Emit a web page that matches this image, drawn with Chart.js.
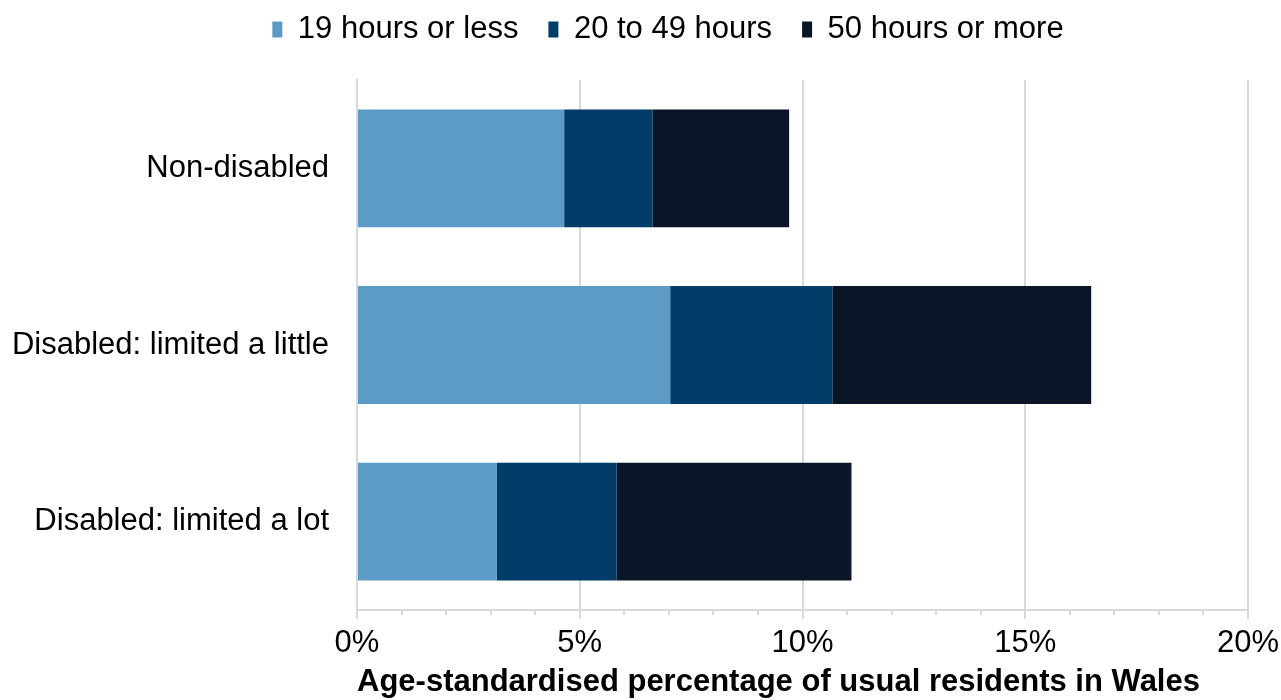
<!DOCTYPE html>
<html>
<head>
<meta charset="utf-8">
<script src="https://cdn.jsdelivr.net/npm/chart.js@4.4.1/dist/chart.umd.min.js"></script>
<style>
  html, body { margin: 0; padding: 0; background: #fff; }
  #wrap { width: 1281px; height: 700px; }
</style>
</head>
<body>
<div id="wrap"><canvas id="careChart" width="1281" height="700"></canvas></div>
<script>
// Unpaid care per week, by disability status
const groups = ['Non-disabled', 'Disabled: limited a little', 'Disabled: limited a lot'];
const upTo19 = [4.65, 7.03, 3.14];
const from20to49 = [1.98, 3.64, 2.69];
const over50 = [3.07, 5.81, 5.27];
const seriesNames = ['19 hours or less', '20 to 49 hours', '50 hours or more'];
const seriesColors = ['#5b9bc6', '#023c69', '#0a1628'];

const FONT = 'Liberation Sans, Arial, sans-serif';
const GRID = '#d9d9d9';

// minor tick marks every 1% along the x axis
const minorTicks = {
  id: 'minorTicks',
  afterDraw(chart) {
    const x = chart.scales.x;
    const ctx = chart.ctx;
    const y0 = chart.chartArea.bottom;
    ctx.save();
    ctx.strokeStyle = GRID;
    ctx.lineWidth = 2;
    for (let v = x.min; v <= x.max; v++) {
      if (v % 5 === 0) continue;
      const px = Math.round(x.getPixelForValue(v));
      ctx.beginPath();
      ctx.moveTo(px, y0);
      ctx.lineTo(px, y0 + 5);
      ctx.stroke();
    }
    ctx.restore();
  }
};

// fixed legend band height, legend row nudged up and right
const legendBand = {
  id: 'legendBand',
  beforeInit(chart) {
    const fit = chart.legend.fit;
    chart.legend.fit = function () {
      fit.call(this);
      this.height = 80;
    };
  },
  afterLayout(chart) {
    const lg = chart.legend;
    lg.top = -16;
    lg.left += 44;
    lg.right += 44;
  }
};

new Chart(document.getElementById('careChart'), {
  type: 'bar',
  data: {
    labels: groups,
    datasets: [upTo19, from20to49, over50].map((d, i) => ({
      label: seriesNames[i],
      data: d,
      backgroundColor: seriesColors[i],
      borderWidth: 0,
      barPercentage: 0.667,
      categoryPercentage: 1
    }))
  },
  options: {
    indexAxis: 'y',
    responsive: false,
    animation: false,
    layout: { padding: { left: 0, right: 33, top: 0, bottom: 0 } },
    plugins: {
      tooltip: { enabled: false },
      legend: {
        position: 'top',
        labels: {
          font: { family: FONT, size: 31 },
          color: '#000',
          boxWidth: 10,
          boxHeight: 16,
          padding: 30
        }
      }
    },
    scales: {
      x: {
        stacked: true,
        min: 0,
        max: 20,
        afterFit(s) {
          s.height = 90;
          s.paddingLeft = 0;
          s.paddingRight = 0;
        },
        ticks: {
          stepSize: 5,
          font: { family: FONT, size: 31 },
          color: '#000',
          padding: 6,
          maxRotation: 0,
          callback: v => v + '%'
        },
        grid: { color: GRID, lineWidth: 2, tickLength: 9, tickColor: GRID },
        border: { color: GRID, width: 2 },
        title: {
          display: true,
          text: 'Age-standardised percentage of usual residents in Wales',
          align: 'start',
          font: { family: FONT, size: 31, weight: 'bold', lineHeight: 1.1 },
          color: '#000',
          padding: { top: 0, bottom: 0 }
        }
      },
      y: {
        stacked: true,
        afterFit(s) { s.width = 357; },
        ticks: {
          font: { family: FONT, size: 31 },
          color: '#000',
          padding: 28
        },
        grid: { display: false, drawTicks: false },
        border: { color: GRID, width: 2 }
      }
    }
  },
  plugins: [minorTicks, legendBand]
});
</script>
</body>
</html>
